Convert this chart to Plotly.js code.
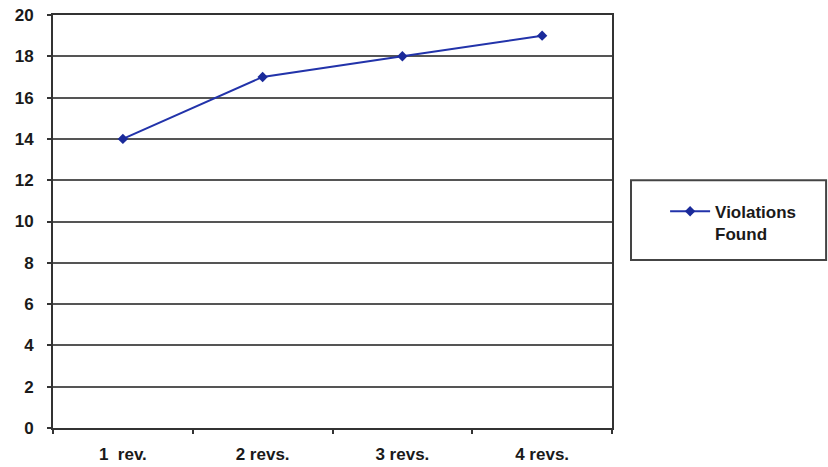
<!DOCTYPE html>
<html>
<head>
<meta charset="utf-8">
<script src="https://cdn.plot.ly/plotly-3.0.1.min.js"></script>
<style>html,body{margin:0;padding:0;background:#fff;}#chart{width:828px;height:467px;}</style>
</head>
<body>
<div id="chart"></div>
<script>
var categories = ["1  rev.", "2 revs.", "3 revs.", "4 revs."];
var violationsFound = [14, 17, 18, 19];
var seriesName = "Violations<br>Found";
var yTicks = [0, 2, 4, 6, 8, 10, 12, 14, 16, 18, 20];

var font = {family: "Liberation Sans, Arial, sans-serif", size: 17, color: "#1a1a1a", weight: "bold"};

var trace = {
  x: categories,
  y: violationsFound,
  type: "scatter",
  mode: "lines+markers",
  name: seriesName,
  line: {color: "#2233aa", width: 2},
  marker: {color: "#1a2a9a", size: 8, symbol: "diamond"}
};

var layout = {
  width: 828, height: 467,
  margin: {l: 53, r: 216, t: 15, b: 39},
  paper_bgcolor: "#fff", plot_bgcolor: "#fff",
  font: font,
  showlegend: true,
  xaxis: {
    type: "category",
    range: [-0.5, 3.5],
    tickson: "boundaries",
    ticks: "outside", ticklen: 4, tickcolor: "#333", tickwidth: 2,
    showline: true, linecolor: "#333", linewidth: 2, mirror: true,
    showgrid: false, zeroline: false,
    tickfont: font,
    ticklabelstandoff: 10
  },
  yaxis: {
    range: [0, 20],
    tickvals: yTicks,
    ticks: "outside", ticklen: 4, tickcolor: "#333", tickwidth: 2,
    showline: true, linecolor: "#333", linewidth: 2, mirror: true,
    showgrid: true, gridcolor: "#555", gridwidth: 2,
    zeroline: false,
    tickfont: font,
    ticklabelstandoff: 10
  },
  legend: {
    x: 1.095, y: 0.497, xanchor: "left", yanchor: "middle",
    bgcolor: "rgba(0,0,0,0)", borderwidth: 0, valign: "top",
    font: font, itemwidth: 40
  },
  shapes: [{
    type: "rect", xref: "paper", yref: "paper",
    x0: 1.034, x1: 1.383, y0: 0.407, y1: 0.600,
    line: {color: "#444", width: 2}, fillcolor: "rgba(0,0,0,0)"
  }]
};

Plotly.newPlot("chart", [trace], layout, {displayModeBar: false, staticPlot: true});
</script>
</body>
</html>
